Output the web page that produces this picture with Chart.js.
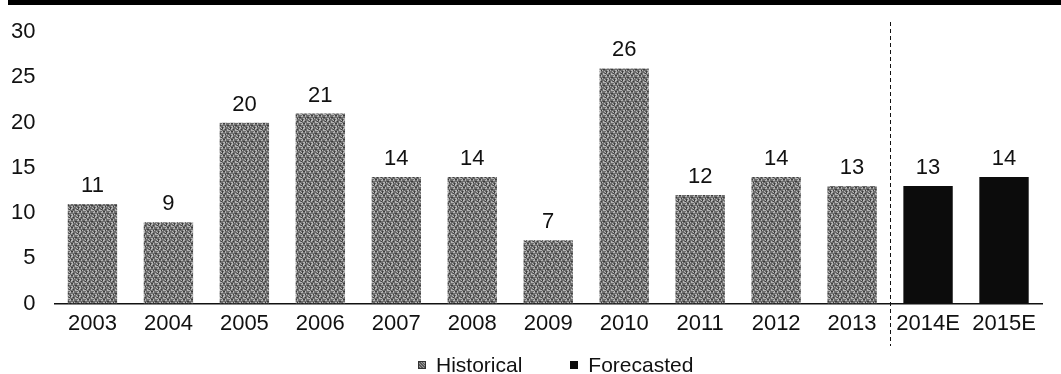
<!DOCTYPE html>
<html>
<head>
<meta charset="utf-8">
<script src="https://cdn.jsdelivr.net/npm/chart.js@4.4.1/dist/chart.umd.min.js"></script>
<style>
  html, body { margin: 0; padding: 0; background: #fff; }
  #wrap { position: relative; width: 1061px; height: 374px; overflow: hidden; }
  #topband { position: absolute; left: 8px; top: 0; width: 1053px; height: 5px; background: #000; }
  #c { position: absolute; left: 0; top: 0; }
  #legend { position: absolute; left: 418px; top: 353px; height: 24px; display: flex; align-items: center; gap: 48px; font-family: "Liberation Sans", Arial, sans-serif; font-size: 21px; color: #111; white-space: nowrap; }
  .item { display: flex; align-items: center; }
  .box { width: 8px; height: 8px; margin-right: 10px; }
</style>
</head>
<body>
<div id="wrap">
  <canvas id="c" width="1061" height="374"></canvas>
  <div id="topband"></div>
  <div id="legend"></div>
</div>
<script>
const categories = ["2003","2004","2005","2006","2007","2008","2009","2010","2011","2012","2013","2014E","2015E"];
const historical = [11, 9, 20, 21, 14, 14, 7, 26, 12, 14, 13, null, null];
const forecasted = [null, null, null, null, null, null, null, null, null, null, null, 13, 14];
const seriesNames = ["Historical", "Forecasted"];
const yTicks = [0, 5, 10, 15, 20, 25, 30];

function makePattern(base, light, dark) {
  const p = document.createElement('canvas');
  p.width = 8; p.height = 8;
  const g = p.getContext('2d');
  g.fillStyle = base; g.fillRect(0, 0, 8, 8);
  for (let y = 0; y < 8; y++) {
    for (let x = 0; x < 8; x++) {
      const h = (x * 5 + y * 3 + (x * y) % 3) % 7;
      if (h === 0 || h === 4) { g.fillStyle = light; g.fillRect(x, y, 1, 1); }
      else if (h === 2) { g.fillStyle = dark; g.fillRect(x, y, 1, 1); }
    }
  }
  return g.createPattern(p, 'repeat');
}
const ctx0 = document.getElementById('c').getContext('2d');
const histFill = makePattern('#6c6c6c', '#b4b4b4', '#3c3c3c');
const foreFill = '#0c0c0c';

const FONT = { family: '"Liberation Sans", Arial, sans-serif', size: 22 };

const labelPlugin = {
  id: 'valueLabels',
  afterDatasetsDraw(chart) {
    const ctx = chart.ctx;
    ctx.save();
    ctx.font = '22px "Liberation Sans", Arial, sans-serif';
    ctx.fillStyle = '#111';
    ctx.textAlign = 'center';
    ctx.textBaseline = 'alphabetic';
    chart.data.datasets.forEach((ds, di) => {
      const meta = chart.getDatasetMeta(di);
      meta.data.forEach((el, i) => {
        const v = ds.data[i];
        if (v === null || v === undefined) return;
        ctx.fillText(String(v), el.x, el.y - 12);
      });
    });
    ctx.restore();
  }
};

const dividerPlugin = {
  id: 'divider',
  afterDraw(chart) {
    const xs = chart.scales.x;
    const x = Math.round((xs.getPixelForValue(10) + xs.getPixelForValue(11)) / 2) + 0.5;
    const ctx = chart.ctx;
    ctx.save();
    ctx.strokeStyle = '#111';
    ctx.lineWidth = 1;
    ctx.setLineDash([4, 3]);
    ctx.beginPath();
    ctx.moveTo(x, 22);
    ctx.lineTo(x, 346);
    ctx.stroke();
    ctx.restore();
  }
};

new Chart(ctx0, {
  type: 'bar',
  data: {
    labels: categories,
    datasets: [
      { label: seriesNames[0], data: historical, backgroundColor: histFill, borderWidth: 0, grouped: false, categoryPercentage: 1, barPercentage: 0.65 },
      { label: seriesNames[1], data: forecasted, backgroundColor: foreFill, borderWidth: 0, grouped: false, categoryPercentage: 1, barPercentage: 0.65 }
    ]
  },
  options: {
    responsive: false,
    animation: false,
    layout: { padding: { top: 31, left: -8, right: 19, bottom: 30 } },
    plugins: { legend: { display: false }, tooltip: { enabled: false } },
    scales: {
      x: {
        grid: { display: false, drawTicks: false },
        border: { display: true, color: '#111', width: 1.5 },
        ticks: { font: FONT, color: '#111', padding: 7, maxRotation: 0 }
      },
      y: {
        min: 0, max: 30,
        afterBuildTicks(scale) { scale.ticks = yTicks.map(v => ({ value: v })); },
        grid: { display: false, drawTicks: false },
        border: { display: false },
        ticks: { font: FONT, color: '#111', padding: 19 }
      }
    }
  },
  plugins: [labelPlugin, dividerPlugin]
});

const legend = document.getElementById('legend');
[[seriesNames[0], null], [seriesNames[1], foreFill]].forEach(([name, col], idx) => {
  const item = document.createElement('div'); item.className = 'item';
  const b = document.createElement('div'); b.className = 'box';
  if (idx === 0) {
    b.style.background = 'repeating-linear-gradient(45deg, #5a5a5a 0 1px, #9a9a9a 1px 2px)';
    b.style.border = '0.5px solid #333';
    b.style.boxSizing = 'border-box';
  } else {
    b.style.background = col;
  }
  const t = document.createElement('span'); t.textContent = name;
  item.appendChild(b); item.appendChild(t);
  legend.appendChild(item);
});
</script>
</body>
</html>
